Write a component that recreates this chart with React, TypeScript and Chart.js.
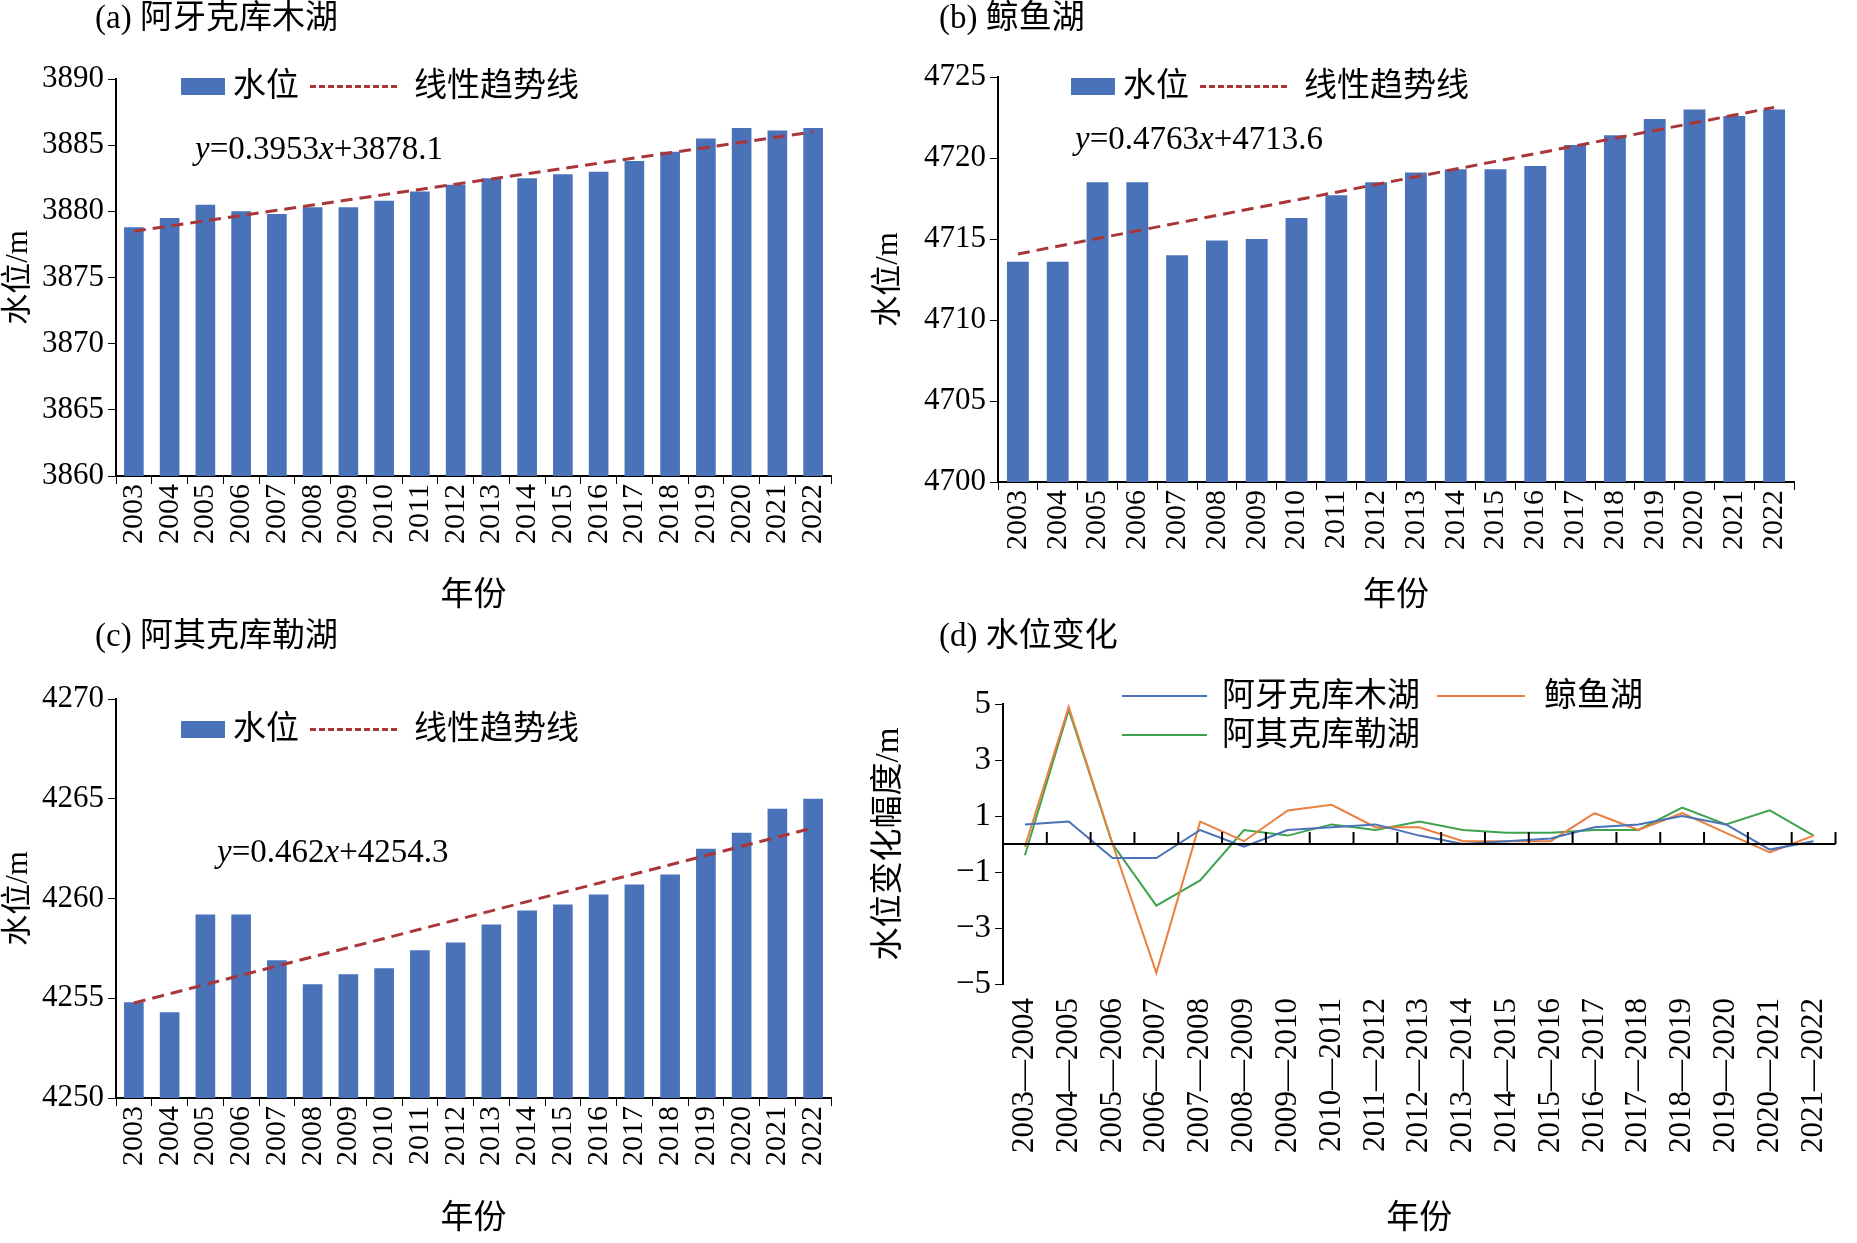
import React, { useEffect, useRef } from 'react';
import { Chart, registerables } from 'chart.js';

Chart.register(...registerables);

const years = ['2003', '2004', '2005', '2006', '2007', '2008', '2009', '2010', '2011', '2012',
  '2013', '2014', '2015', '2016', '2017', '2018', '2019', '2020', '2021', '2022'];
const levelA = [3878.8, 3879.5, 3880.5, 3880.0, 3879.8, 3880.3, 3880.3, 3880.8, 3881.5, 3882.0,
  3882.5, 3882.5, 3882.8, 3883.0, 3883.8, 3884.5, 3885.5, 3886.3, 3886.1, 3886.3];
const levelB = [4713.6, 4713.6, 4718.5, 4718.5, 4714.0, 4714.9, 4715.0, 4716.3, 4717.7, 4718.5,
  4719.1, 4719.3, 4719.3, 4719.5, 4720.8, 4721.4, 4722.4, 4723.0, 4722.6, 4723.0];
const levelC = [4254.8, 4254.3, 4259.2, 4259.2, 4256.9, 4255.7, 4256.2, 4256.5, 4257.4, 4257.8,
  4258.7, 4259.4, 4259.7, 4260.2, 4260.7, 4261.2, 4262.5, 4263.3, 4264.5, 4265.0];
const trendA = [0.3953, 3878.1];
const trendB = [0.4763, 4713.6];
const trendC = [0.462, 4254.3];

const periods = ['2003—2004', '2004—2005', '2005—2006', '2006—2007', '2007—2008', '2008—2009',
  '2009—2010', '2010—2011', '2011—2012', '2012—2013', '2013—2014', '2014—2015', '2015—2016',
  '2016—2017', '2017—2018', '2018—2019', '2019—2020', '2020—2021', '2021—2022'];
const changeA = [0.7, 0.8, -0.5, -0.5, 0.5, -0.1, 0.5, 0.6, 0.7, 0.3, 0.0, 0.1, 0.2, 0.6, 0.7, 1.0, 0.7, -0.2, 0.1];
const changeB = [-0.1, 4.9, 0.0, -4.6, 0.8, 0.1, 1.2, 1.4, 0.6, 0.6, 0.1, 0.1, 0.1, 1.1, 0.5, 1.1, 0.4, -0.3, 0.3];
const changeC = [-0.4, 4.8, 0.0, -2.2, -1.3, 0.5, 0.3, 0.7, 0.5, 0.8, 0.5, 0.4, 0.4, 0.5, 0.5, 1.3, 0.7, 1.2, 0.3];

const FONT = '"Liberation Serif", "Noto Sans CJK SC", serif';
const BAR = '#4a72b8';
const TREND = '#a9373a';
const FS = 33;

type BarProps = {
  values: number[];
  trend: number[];
  min: number;
  max: number;
  box: { x: number; y: number; w: number; h: number };
  left: number; top: number; right: number; xh: number;
};

const BarPanel: React.FC<BarProps> = ({ values, trend, min, max, box, left, top, right, xh }) => {
  const ref = useRef<HTMLCanvasElement | null>(null);
  useEffect(() => {
    if (!ref.current) return;
    const chart = new Chart(ref.current, {
      type: 'bar',
      data: {
        labels: years,
        datasets: [
          { type: 'bar', data: values, backgroundColor: BAR, barPercentage: 0.55, categoryPercentage: 1, order: 2 },
          {
            type: 'line', data: years.map((_, i) => trend[0] * (i + 1) + trend[1]),
            borderColor: TREND, borderWidth: 3, borderDash: [12, 7], pointRadius: 0, order: 1,
          },
        ],
      },
      options: {
        animation: false, responsive: false,
        layout: { padding: { top, right, left: 0, bottom: 0 } },
        plugins: { legend: { display: false }, tooltip: { enabled: false } },
        scales: {
          x: {
            afterFit: (s: any) => { s.height = xh; },
            grid: { drawOnChartArea: false, offset: true, color: '#000', tickLength: 8 },
            border: { color: '#000', width: 2 },
            ticks: { autoSkip: false, minRotation: 90, maxRotation: 90, color: '#000', font: { family: FONT, size: 30 }, padding: 0 },
            title: { display: true, text: '年份', color: '#000', font: { family: FONT, size: FS }, padding: { top: 4 } },
          },
          y: {
            min, max,
            afterFit: (s: any) => { s.width = left; },
            grid: { drawOnChartArea: false, color: '#000', tickLength: 8 },
            border: { color: '#000', width: 2 },
            ticks: { stepSize: 5, color: '#000', font: { family: FONT, size: 31 }, padding: 4, callback: (v: any) => String(v) },
            title: { display: true, text: '水位/m', color: '#000', font: { family: FONT, size: 31 }, padding: 0 },
          },
        },
      },
    });
    return () => chart.destroy();
  }, []);
  return (
    <canvas ref={ref} width={box.w} height={box.h}
      style={{ position: 'absolute', left: box.x, top: box.y, width: box.w, height: box.h }} />
  );
};

const LinePanel: React.FC = () => {
  const ref = useRef<HTMLCanvasElement | null>(null);
  useEffect(() => {
    if (!ref.current) return;
    const zeroLine = {
      id: 'zeroLine',
      afterDatasetsDraw(chart: any) {
        const { ctx, chartArea, scales } = chart;
        const y0 = scales.y.getPixelForValue(0);
        ctx.save();
        ctx.strokeStyle = '#000';
        ctx.lineWidth = 2;
        ctx.beginPath();
        ctx.moveTo(chartArea.left, y0);
        ctx.lineTo(chartArea.right, y0);
        const n = periods.length;
        const step = (chartArea.right - chartArea.left) / n;
        for (let i = 1; i <= n; i++) {
          const x = chartArea.left + i * step;
          ctx.moveTo(x, y0);
          ctx.lineTo(x, y0 - 12);
        }
        ctx.stroke();
        ctx.restore();
      },
    };
    const ds = (data: number[], color: string) => ({
      data, borderColor: color, backgroundColor: color, borderWidth: 2, pointRadius: 0, tension: 0,
    });
    const chart = new Chart(ref.current, {
      type: 'line',
      data: {
        labels: periods,
        datasets: [ds(changeA, '#4a72b8'), ds(changeB, '#e9803f'), ds(changeC, '#3fa24c')],
      },
      options: {
        animation: false, responsive: false,
        layout: { padding: { top: 84, right: 8, left: 0, bottom: 0 } },
        plugins: { legend: { display: false }, tooltip: { enabled: false } },
        scales: {
          x: {
            offset: true,
            afterFit: (s: any) => { s.height = 259; },
            grid: { display: false },
            border: { display: false },
            ticks: { autoSkip: false, minRotation: 90, maxRotation: 90, color: '#000', font: { family: FONT, size: 31 }, padding: 6 },
            title: { display: true, text: '年份', color: '#000', font: { family: FONT, size: FS }, padding: { top: 2 } },
          },
          y: {
            min: -5, max: 5,
            afterFit: (s: any) => { s.width = 133; },
            grid: { drawOnChartArea: false, color: '#000', tickLength: 8 },
            border: { color: '#000', width: 2 },
            ticks: {
              stepSize: 2, color: '#000', font: { family: FONT, size: FS }, padding: 4,
              callback: (v: any) => String(v).replace('-', '−'),
            },
            title: { display: true, text: '水位变化幅度/m', color: '#000', font: { family: FONT, size: FS }, padding: 0 },
          },
        },
      },
      plugins: [zeroLine],
    });
    return () => chart.destroy();
  }, []);
  return (
    <canvas ref={ref} width={987} height={623}
      style={{ position: 'absolute', left: 870, top: 620, width: 987, height: 623 }} />
  );
};

const txt = (x: number, y: number, s: React.ReactNode, size = FS) => (
  <div style={{ position: 'absolute', left: x, top: y - size * 0.6, fontSize: size, lineHeight: `${size * 1.2}px`, whiteSpace: 'nowrap', fontFamily: FONT, color: '#000' }}>{s}</div>
);
const swatch = (x: number, y: number, w: number, h: number, color: string, dashed = false) => (
  <div style={{
    position: 'absolute', left: x, top: y - h / 2, width: w, height: dashed ? 0 : h,
    background: dashed ? 'none' : color, borderTop: dashed ? `${h}px dashed ${color}` : 'none',
  }} />
);
const barLegend = (x: number, y: number) => (
  <>
    {swatch(x, y, 44, 17, BAR)}
    {txt(x + 52, y, '水位')}
    {swatch(x + 129, y, 87, 3, TREND, true)}
    {txt(x + 233, y, '线性趋势线')}
  </>
);
const eq = (x: number, y: number, a: string, b: string) => txt(x, y, <><i>y</i>={a}<i>x</i>+{b}</>);

const App: React.FC = () => {
  useEffect(() => { document.body.style.margin = '0'; }, []);
  return (
    <div style={{ position: 'relative', width: 1857, height: 1243, background: '#fff' }}>
      <BarPanel values={levelA} trend={trendA} min={3860} max={3890}
        box={{ x: 0, y: 0, w: 870, h: 620 }} left={116} top={79} right={39} xh={144} />
      <BarPanel values={levelB} trend={trendB} min={4700} max={4725}
        box={{ x: 870, y: 0, w: 987, h: 620 }} left={128} top={77} right={63} xh={138} />
      <BarPanel values={levelC} trend={trendC} min={4250} max={4270}
        box={{ x: 0, y: 620, w: 870, h: 623 }} left={116} top={79} right={39} xh={145} />
      <LinePanel />
      {txt(95, 18, '(a) 阿牙克库木湖')}
      {txt(939, 18, '(b) 鲸鱼湖')}
      {txt(95, 636, '(c) 阿其克库勒湖')}
      {txt(939, 636, '(d) 水位变化')}
      {barLegend(181, 86)}
      {barLegend(1071, 86)}
      {barLegend(181, 729)}
      {eq(195, 149, '0.3953', '3878.1')}
      {eq(1075, 139, '0.4763', '4713.6')}
      {eq(217, 852, '0.462', '4254.3')}
      {swatch(1122, 696, 85, 2, '#4a72b8')}
      {txt(1222, 696, '阿牙克库木湖')}
      {swatch(1437, 696, 88, 2, '#e9803f')}
      {txt(1544, 696, '鲸鱼湖')}
      {swatch(1122, 735, 85, 2, '#3fa24c')}
      {txt(1222, 735, '阿其克库勒湖')}
    </div>
  );
};

export default App;
